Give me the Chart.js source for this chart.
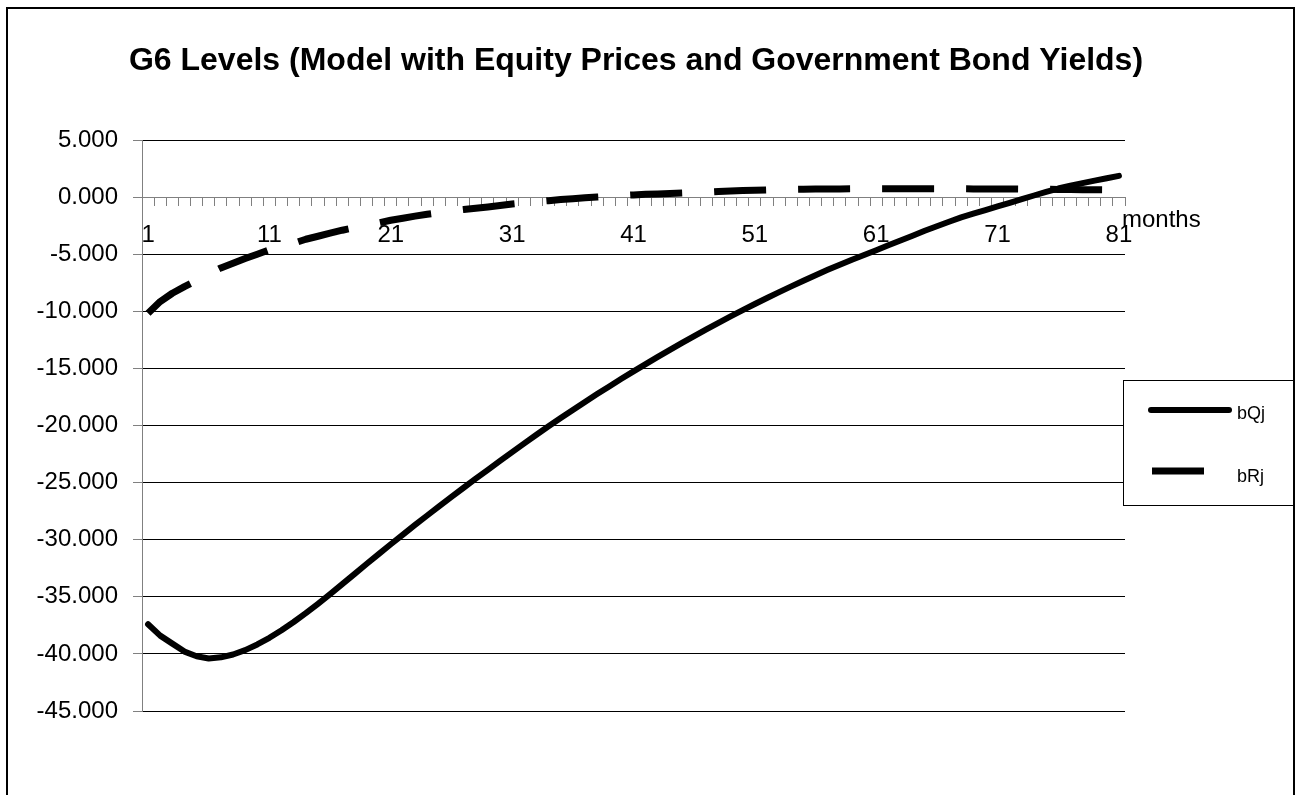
<!DOCTYPE html>
<html>
<head>
<meta charset="utf-8">
<title>G6 Levels</title>
<script src="https://cdn.jsdelivr.net/npm/chart.js@4.4.1/dist/chart.umd.min.js"></script>
<style>
  html, body { margin: 0; padding: 0; background: #fff; }
  canvas { display: block; }
</style>
</head>
<body>
<canvas id="chart" width="1296" height="795"></canvas>
<script>
// months 1..81 (category axis)
const months = [
  "1","2","3","4","5","6","7","8","9","10",
  "11","12","13","14","15","16","17","18","19","20",
  "21","22","23","24","25","26","27","28","29","30",
  "31","32","33","34","35","36","37","38","39","40",
  "41","42","43","44","45","46","47","48","49","50",
  "51","52","53","54","55","56","57","58","59","60",
  "61","62","63","64","65","66","67","68","69","70",
  "71","72","73","74","75","76","77","78","79","80",
  "81"
];

// bQj (solid line)
const bQj = [
  -37.4, -38.4, -39.1, -39.8, -40.2, -40.4, -40.3, -40.05, -39.67, -39.17,
  -38.59, -37.93, -37.21, -36.43, -35.61, -34.76, -33.89, -33.01, -32.13, -31.26,
  -30.4, -29.55, -28.71, -27.88, -27.06, -26.25, -25.45, -24.66, -23.88, -23.1,
  -22.33, -21.57, -20.81, -20.07, -19.35, -18.64, -17.94, -17.25, -16.58, -15.91,
  -15.26, -14.62, -13.99, -13.37, -12.76, -12.17, -11.58, -11.01, -10.45, -9.9,
  -9.36, -8.84, -8.32, -7.82, -7.32, -6.84, -6.37, -5.92, -5.48, -5.07,
  -4.65, -4.22, -3.8, -3.38, -2.95, -2.55, -2.16, -1.78, -1.45, -1.13,
  -0.82, -0.5, -0.18, 0.14, 0.45, 0.75, 1.0, 1.22, 1.44, 1.65,
  1.86
];

// bRj (dashed line)
const bRj = [
  -10.17, -9.15, -8.42, -7.84, -7.31, -6.73, -6.2, -5.79, -5.38, -5.0,
  -4.62, -4.33, -4.04, -3.69, -3.43, -3.16, -2.9, -2.67, -2.46, -2.26,
  -2.03, -1.85, -1.67, -1.5, -1.36, -1.21, -1.09, -0.97, -0.86, -0.74,
  -0.6, -0.5, -0.4, -0.31, -0.22, -0.14, -0.06, 0.01, 0.07, 0.13,
  0.19, 0.24, 0.28, 0.32, 0.36, 0.4, 0.44, 0.49, 0.53, 0.57,
  0.6, 0.63, 0.65, 0.67, 0.69, 0.7, 0.71, 0.72, 0.73, 0.73,
  0.74, 0.74, 0.74, 0.74, 0.74, 0.74, 0.73, 0.73, 0.72, 0.72,
  0.71, 0.71, 0.7, 0.69, 0.68, 0.67, 0.66, 0.65, 0.64, 0.63,
  0.62
];

// axis tick labels
const xTickLabels = ["1", "11", "21", "31", "41", "51", "61", "71", "81"];
const yTickValues = [5, 0, -5, -10, -15, -20, -25, -30, -35, -40, -45];

const chartTitle = "G6 Levels (Model with Equity Prices and Government Bond Yields)";

const FONT = '"Liberation Sans", Arial, sans-serif';

// frame, title, "months" label and boxed legend
const decorations = {
  id: "decorations",
  beforeDraw(chart) {
    const ctx = chart.ctx;
    ctx.save();
    ctx.fillStyle = "#fff";
    ctx.fillRect(0, 0, chart.width, chart.height);
    ctx.restore();
  },
  afterDraw(chart) {
    const ctx = chart.ctx;
    ctx.save();

    // outer chart border
    ctx.strokeStyle = "#000";
    ctx.lineWidth = 2;
    ctx.strokeRect(7, 8, 1287, 900);

    // title
    ctx.fillStyle = "#000";
    ctx.font = "bold 32px " + FONT;
    ctx.textAlign = "center";
    ctx.textBaseline = "middle";
    ctx.fillText(chartTitle, 636, 61);

    // axis title at end of category axis
    ctx.font = "24px " + FONT;
    ctx.textBaseline = "alphabetic";
    ctx.textAlign = "left";
    ctx.fillText("months", 1122, 227);

    // legend box
    ctx.lineWidth = 1;
    ctx.strokeStyle = "#000";
    ctx.fillStyle = "#fff";
    ctx.fillRect(1123.5, 380.5, 170, 125);
    ctx.strokeRect(1123.5, 380.5, 170, 125);

    const rows = [
      { y: 410, x0: 1151, x1: 1229, textY: 419 },
      { y: 471, x0: 1152, x1: 1206, textY: 482 }
    ];
    chart.data.datasets.forEach((ds, i) => {
      const r = rows[i];
      ctx.beginPath();
      ctx.strokeStyle = ds.borderColor;
      ctx.lineWidth = ds.borderWidth;
      ctx.lineCap = ds.borderCapStyle || "butt";
      ctx.setLineDash(ds.borderDash || []);
      ctx.moveTo(r.x0, r.y);
      ctx.lineTo(r.x1, r.y);
      ctx.stroke();
      ctx.setLineDash([]);
      ctx.fillStyle = "#000";
      ctx.font = "18px " + FONT;
      ctx.fillText(ds.label, 1237, r.textY);
    });

    ctx.restore();
  }
};

const ctx = document.getElementById("chart").getContext("2d");
const chart = new Chart(ctx, {
  type: "line",
  data: {
    labels: months,
    datasets: [
      {
        label: "bQj",
        data: bQj,
        borderColor: "#000",
        borderWidth: 6,
        borderCapStyle: "round",
        borderJoinStyle: "round",
        pointRadius: 0,
        tension: 0,
        fill: false
      },
      {
        label: "bRj",
        data: bRj,
        borderColor: "#000",
        borderWidth: 7,
        borderDash: [52, 32],
        borderCapStyle: "butt",
        borderJoinStyle: "round",
        pointRadius: 0,
        tension: 0,
        fill: false
      }
    ]
  },
  options: {
    responsive: false,
    devicePixelRatio: 1,
    animation: false,
    layout: {
      padding: { top: 140, left: 0, right: 171, bottom: 84 }
    },
    plugins: {
      legend: { display: false },
      tooltip: { enabled: false },
      title: { display: false }
    },
    scales: {
      x: {
        type: "category",
        position: { y: 0 },
        offset: true,
        afterFit: (s) => { s.height = 0; },
        grid: {
          display: true,
          offset: true,
          drawOnChartArea: false,
          drawTicks: true,
          tickLength: 8,
          color: "#808080",
          lineWidth: 1
        },
        border: { display: true, color: "#808080", width: 1 },
        ticks: {
          autoSkip: false,
          maxRotation: 0,
          minRotation: 0,
          padding: 16,
          color: "#000",
          font: { family: FONT, size: 24 },
          callback: function (value, index) {
            const lab = months[index];
            return xTickLabels.includes(lab) ? lab : "";
          }
        }
      },
      y: {
        min: -45,
        max: 5,
        afterFit: (s) => { s.width = 142; },
        afterBuildTicks: (s) => {
          s.ticks = yTickValues.map((v) => ({ value: v }));
        },
        grid: {
          color: (c) => (c.tick && c.tick.value === 0 ? "#808080" : "#000"),
          tickColor: "#808080",
          tickLength: 9,
          lineWidth: 1
        },
        border: { display: true, color: "#808080", width: 1 },
        ticks: {
          padding: 15,
          color: "#000",
          font: { family: FONT, size: 24 },
          callback: (v) => Number(v).toFixed(3)
        }
      }
    }
  },
  plugins: [decorations]
});
</script>
</body>
</html>
